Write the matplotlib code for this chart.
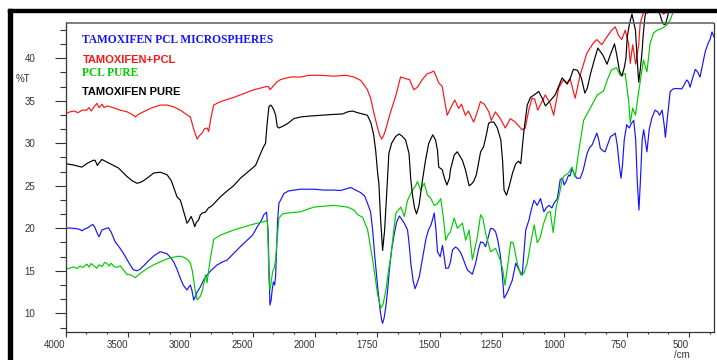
import numpy as np
import matplotlib
matplotlib.use("Agg")
import matplotlib.pyplot as plt
from matplotlib.patches import Rectangle
from matplotlib.ticker import FixedLocator, NullFormatter

plt.rcParams['font.family'] = ['Liberation Sans', 'DejaVu Sans']

# FTIR spectra, wavenumber (/cm) and %T
wn_blue = [4000, 3965, 3911, 3885, 3869, 3853, 3831, 3804, 3783, 3764, 3748, 3732, 3710, 3692, 3676, 3657,
           3636, 3603, 3571, 3537, 3507, 3483, 3459, 3429, 3402, 3376, 3338, 3295, 3241, 3187, 3161, 3134,
           3105, 3080, 3056, 3027, 3012, 3000, 2988, 2973, 2960, 2946, 2920, 2895, 2866, 2831, 2785, 2743,
           2705, 2652, 2598, 2544, 2501, 2463, 2437, 2410, 2389, 2377, 2369, 2362, 2352, 2344, 2334, 2324,
           2316, 2308, 2300, 2290, 2249, 2212, 2169, 2115, 2008, 1965, 1924, 1897, 1857, 1837, 1817, 1801,
           1789, 1777, 1769, 1761, 1749, 1739, 1733, 1729, 1723, 1716, 1709, 1702, 1693, 1682, 1673, 1662,
           1653, 1642, 1629, 1622, 1616, 1607, 1599, 1593, 1582, 1569, 1555, 1545, 1535, 1529, 1522, 1515,
           1509, 1498, 1489, 1483, 1476, 1465, 1457, 1449, 1437, 1429, 1417, 1409, 1397, 1389, 1369, 1356,
           1345, 1336, 1325, 1316, 1305, 1296, 1285, 1276, 1267, 1257, 1249, 1242, 1233, 1222, 1209, 1195,
           1182, 1169, 1163, 1155, 1142, 1133, 1122, 1109, 1096, 1082, 1073, 1062, 1050, 1041, 1028, 1017,
           1008, 1001, 992, 983, 977, 970, 961, 950, 936, 924, 909, 900, 889, 878, 870, 862, 856, 844, 837,
           825, 815, 804, 796, 788, 780, 773, 767, 760, 750, 740, 732, 722, 714, 708, 701, 694, 688, 682,
           676, 669, 660, 649, 636, 626, 618, 608, 600, 595, 588, 576, 564, 552, 529, 520, 509, 502, 496,
           488, 475, 466, 456, 446, 435, 423, 416, 408, 400]
t_blue = [20.0, 20.04, 19.95, 19.86, 19.7, 19.9, 20.0, 20.27, 20.47, 20.04, 19.45, 19.0, 19.8, 19.9, 19.98, 20.07,
          19.57, 18.4, 17.8, 17.06, 16.3, 15.7, 15.15, 15.0, 15.2, 15.57, 16.15, 16.74, 17.25, 17.0, 16.6, 16.07,
          15.1, 14.1, 13.3, 12.74, 13.1, 13.33, 12.74, 11.56, 12.0, 12.5, 13.1, 13.9, 14.5, 15.1, 15.7, 16.04,
          16.27, 17.06, 17.86, 18.6, 19.2, 20.2, 20.75, 21.6, 21.9, 19.8, 15.1, 10.98, 11.57, 12.74, 13.7, 13.33,
          14.5, 17.8, 20.98, 22.94, 24.1, 24.4, 24.5, 24.6, 24.6, 24.5, 24.5, 24.45, 24.8, 24.5, 24.2, 23.8,
          22.9, 21.9, 19.8, 16.9, 13.13, 10.4, 9.2, 8.83, 9.45, 10.8, 12.74, 15.1, 17.45, 19.4, 20.7, 21.45,
          21.1, 20.6, 19.8, 18.0, 15.9, 13.9, 12.9, 13.33, 14.3, 16.5, 18.8, 19.8, 20.4, 21.0, 21.8, 19.8,
          17.25, 16.66, 18.0, 16.86, 15.3, 15.33, 16.04, 17.45, 17.8, 17.65, 17.2, 16.66, 15.7, 15.1, 14.6, 15.9,
          17.45, 18.4, 18.3, 17.84, 19.0, 20.0, 19.92, 19.6, 18.6, 16.86, 14.5, 11.8, 12.2, 12.94, 13.9, 15.9,
          15.1, 14.5, 16.86, 19.8, 20.98, 22.15, 23.3, 22.7, 23.5, 21.95, 22.4, 22.7, 22.4, 22.98, 23.5, 25.7,
          25.9, 25.1, 25.6, 26.27, 26.15, 27.06, 26.4, 25.88, 25.9, 26.9, 28.8, 29.45, 29.8, 30.6, 31.2, 30.4, 29.4, 29.1, 29.0,
          30.0, 30.8, 30.98, 31.2, 29.8, 27.45, 25.9, 27.45, 30.4, 32.2, 31.8, 32.3, 32.7, 30.4, 25.7, 22.15, 26.3, 30.4, 31.6,
          30.4, 29.0, 31.6, 33.0, 33.9, 33.7, 33.3, 33.9, 32.2, 30.7, 32.7, 36.07, 36.4, 36.45, 36.4, 36.86, 37.45, 37.2, 36.6,
          37.45, 38.7, 38.4, 37.8, 39.2, 40.8, 41.8, 42.2, 43.1, 42.5]

wn_red = [4000, 3965, 3933, 3901, 3869, 3831, 3813, 3796, 3772, 3751, 3732, 3708, 3692, 3668, 3644, 3619,
          3563, 3507, 3456, 3442, 3418, 3376, 3322, 3241, 3187, 3137, 3080, 3032, 3000, 2976, 2946, 2928,
          2906, 2887, 2866, 2853, 2835, 2813, 2759, 2652, 2491, 2383, 2369, 2362, 2343, 2308, 2276, 2196,
          2115, 2048, 1977, 1924, 1877, 1844, 1817, 1804, 1790, 1777, 1765, 1750, 1741, 1733, 1725, 1717,
          1697, 1677, 1665, 1657, 1645, 1637, 1621, 1604, 1589, 1570, 1550, 1537, 1524, 1513, 1504, 1490,
          1481, 1470, 1457, 1440, 1424, 1413, 1397, 1385, 1364, 1349, 1337, 1321, 1303, 1293, 1277, 1257,
          1237, 1217, 1197, 1170, 1157, 1143, 1130, 1119, 1107, 1090, 1077, 1057, 1043, 1023, 1003, 990,
          977, 957, 937, 910, 884, 870, 850, 830, 810, 796, 783, 770, 756, 743, 736, 726, 714, 702, 696,
          682, 667, 648, 636, 616, 604, 592, 576, 456]
t_red = [33.5, 33.7, 33.8, 33.6, 33.9, 33.9, 34.2, 33.8, 34.3, 34.7, 34.2, 34.6, 34.2, 34.4, 34.3, 34.2,
         33.9, 33.7, 33.3, 33.1, 33.4, 33.7, 34.1, 34.5, 34.5, 34.3, 33.9, 33.4, 33.1, 31.8, 30.5, 30.9,
         31.2, 31.7, 31.8, 31.4, 33.0, 34.5, 34.9, 35.4, 36.3, 36.7, 36.6, 36.3, 36.6, 37.2, 37.5, 37.8,
         37.8, 38.0, 38.0, 37.9, 38.0, 37.8, 37.4, 36.9, 36.3, 35.3, 33.7, 31.9, 31.0, 30.5, 30.9, 31.6,
         33.7, 35.5, 36.9, 37.8, 37.7, 37.6, 37.5, 36.3, 36.6, 37.5, 38.2, 38.3, 38.5, 37.8, 37.1, 36.7,
         35.1, 33.3, 34.1, 35.1, 34.1, 34.6, 33.3, 33.8, 32.5, 33.7, 34.9, 34.6, 33.7, 32.7, 33.7, 32.9,
         31.8, 32.9, 32.5, 31.6, 31.8, 33.9, 35.3, 35.2, 33.9, 34.9, 35.7, 34.7, 33.3, 36.5, 37.5, 37.1,
         37.6, 35.3, 38.0, 40.6, 41.8, 42.2, 41.6, 42.5, 43.3, 43.7, 42.7, 42.2, 43.3, 41.8, 39.4, 41.6, 39.3, 41.6, 44.1,
         45.5, 45.3, 46.3, 45.9, 45.9, 45.2, 45.4, 46.4, 49.2]

wn_green = [4000, 3965, 3933, 3909, 3885, 3861, 3831, 3813, 3796, 3772, 3751, 3732, 3708, 3688, 3670, 3652,
            3636, 3612, 3590, 3563, 3537, 3509, 3475, 3442, 3402, 3354, 3295, 3241, 3187, 3107, 3072, 3040,
            3016, 3000, 2986, 2973, 2960, 2946, 2932, 2920, 2903, 2879, 2866, 2853, 2839, 2813, 2759, 2652,
            2517, 2437, 2383, 2377, 2370, 2362, 2352, 2340, 2328, 2316, 2308, 2290, 2260, 2222, 2115, 2008,
            1924, 1870, 1844, 1829, 1809, 1789, 1769, 1749, 1736, 1727, 1716, 1705, 1696, 1685, 1676, 1656,
            1642, 1629, 1609, 1597, 1589, 1577, 1562, 1549, 1537, 1522, 1509, 1496, 1485, 1476, 1467, 1457,
            1442, 1429, 1417, 1409, 1396, 1382, 1369, 1349, 1336, 1327, 1316, 1296, 1276, 1255, 1247, 1238,
            1229, 1215, 1205, 1189, 1175, 1163, 1149, 1133, 1121, 1109, 1097, 1085, 1069, 1057, 1045, 1033,
            1021, 1009, 1001, 989, 981, 970, 957, 943, 923, 896, 868, 843, 828, 812, 792, 776, 756, 742, 736,
            726, 715, 704, 695, 683, 669, 656, 642, 628, 610, 590, 576, 563, 548, 456]
t_green = [15.2, 15.33, 15.45, 15.27, 15.56, 15.39, 15.8, 15.45, 15.86, 15.57, 15.3, 15.7, 15.5, 16.0, 15.88, 15.57,
           15.9, 15.5, 15.4, 15.6, 15.1, 14.6, 14.5, 14.2, 14.7, 15.2, 15.7, 16.06, 16.4, 16.7, 16.7, 16.5,
           16.2, 15.9, 15.1, 13.9, 12.5, 11.6, 11.8, 12.0, 12.7, 14.5, 13.6, 15.1, 16.5, 18.7, 19.2, 19.8,
           20.4, 20.7, 20.9, 18.6, 14.3, 12.7, 13.7, 14.9, 15.3, 16.3, 18.0, 21.2, 21.7, 21.8, 21.95, 22.5,
           22.7, 22.5, 22.15, 21.6, 21.3, 19.8, 16.3, 12.2, 10.6, 11.1, 12.7, 15.1, 16.7, 19.6, 21.76, 22.5,
           21.4, 23.3, 24.5, 25.0, 25.5, 24.5, 25.3, 23.9, 23.6, 22.7, 22.9, 23.5, 21.2, 18.6, 19.2, 19.6,
           21.2, 20.0, 20.4, 20.6, 18.6, 19.8, 16.3, 19.0, 21.6, 21.2, 19.4, 17.25, 17.65, 16.1, 15.1, 13.3,
           15.3, 18.4, 18.3, 15.9, 14.5, 14.7, 15.9, 18.6, 20.4, 18.3, 18.9, 20.4, 21.8, 22.0, 19.5, 22.5,
           23.9, 25.7, 26.15, 26.4, 26.6, 27.2, 26.0, 28.98, 32.7, 34.15, 35.7, 36.15, 37.45, 38.6, 38.9, 38.0, 38.2, 34.9, 32.4,
           34.15, 33.3, 35.7, 37.45, 39.8, 38.4, 41.8, 43.0, 43.3, 43.5, 43.9, 44.5, 45.5, 46.3, 49.2]

wn_black = [4000, 3939, 3871, 3821, 3778, 3764, 3746, 3732, 3710, 3684, 3644, 3577, 3509, 3467, 3429, 3402,
            3376, 3338, 3295, 3241, 3187, 3153, 3107, 3080, 3056, 3027, 3012, 2994, 2980, 2965, 2952, 2933,
            2920, 2903, 2879, 2855, 2831, 2785, 2759, 2705, 2654, 2598, 2517, 2477, 2437, 2413, 2397, 2385,
            2370, 2356, 2344, 2330, 2316, 2303, 2290, 2260, 2222, 2171, 2115, 2048, 1977, 1925, 1890, 1869,
            1850, 1829, 1809, 1790, 1776, 1765, 1757, 1749, 1744, 1737, 1729, 1721, 1713, 1704, 1693, 1677,
            1663, 1653, 1637, 1623, 1616, 1609, 1601, 1593, 1583, 1569, 1557, 1544, 1528, 1517, 1509, 1504,
            1490, 1481, 1471, 1461, 1457, 1442, 1430, 1421, 1409, 1397, 1382, 1373, 1364, 1353, 1344, 1336,
            1324, 1313, 1304, 1296, 1283, 1277, 1269, 1255, 1248, 1242, 1232, 1220, 1208, 1195, 1184, 1175,
            1163, 1149, 1136, 1121, 1103, 1089, 1076, 1057, 1037, 1020, 1009, 989, 977, 964, 948, 932, 918,
            908, 895, 880, 866, 846, 829, 816, 799, 790, 779, 769, 760, 753, 748, 740, 729, 724, 715, 708,
            702, 696, 689, 684, 677, 668, 648, 628, 616, 609, 602, 595, 588, 580, 568, 456]
t_black = [27.6, 27.45, 27.2, 27.7, 28.0, 28.0, 27.4, 27.7, 28.1, 27.9, 27.6, 27.1, 26.1, 25.6, 25.3, 25.4,
           25.6, 26.0, 26.5, 26.6, 26.3, 25.6, 23.7, 23.3, 22.1, 20.6, 20.9, 21.4, 20.9, 20.2, 20.7, 21.0,
           21.6, 21.8, 21.9, 22.4, 22.6, 23.3, 23.7, 24.4, 25.0, 25.9, 26.9, 27.4, 28.8, 29.6, 30.0, 32.2,
           34.3, 34.5, 34.3, 33.9, 33.3, 31.95, 31.8, 32.0, 32.3, 32.9, 33.1, 33.2, 33.3, 33.4, 33.45, 33.7,
           33.8, 33.6, 33.45, 33.3, 32.4, 31.0, 29.2, 26.5, 25.3, 21.0, 17.4, 19.8, 23.9, 28.8, 30.0, 30.8,
           31.1, 30.9, 30.4, 28.8, 25.7, 23.9, 22.4, 21.7, 22.7, 25.7, 28.0, 30.0, 31.0, 30.4, 29.2, 27.2,
           26.9, 25.9, 25.1, 25.9, 26.9, 28.6, 29.0, 28.6, 28.0, 26.9, 25.0, 25.2, 25.5, 26.3, 27.7, 29.0,
           29.6, 31.0, 32.35, 32.5, 32.5, 32.2, 31.8, 30.4, 28.0, 24.5, 23.9, 25.1, 26.5, 27.6, 27.9, 27.6,
           31.3, 34.5, 35.4, 35.7, 36.1, 35.3, 34.4, 35.0, 35.7, 36.9, 37.7, 36.96, 37.6, 38.7, 38.6, 37.7, 35.9,
           36.5, 38.2, 39.8, 41.2, 40.4, 39.3, 40.4, 41.7, 40.4, 38.5, 37.9, 38.9, 40.0, 42.5, 43.9, 45.2, 44.5, 43.3, 39.8,
           37.2, 38.6, 40.6, 42.7, 44.9, 46.3, 46.6, 45.9, 45.1, 44.4, 44.0, 44.0, 44.7, 45.7, 46.6, 49.2]

series = [(wn_blue, t_blue, '#1414ff'), (wn_green, t_green, '#00cc00'),
          (wn_red, t_red, '#ff1414'), (wn_black, t_black, 'black')]

x_major = [4000, 3500, 3000, 2500, 2000, 1750, 1500, 1250, 1000, 750, 500]
y_major = [10, 15, 20, 25, 30, 35, 40]


# instrument style axis: 4000-2000 compressed, below 2000 at double scale
def fwd(w):
    w = np.asarray(w, dtype=float)
    return np.where(w >= 2000, w, 2 * w - 2000)


def inv(p):
    p = np.asarray(p, dtype=float)
    return np.where(p >= 2000, p, (p + 2000) / 2)


W, H = 717, 360
fig = plt.figure(figsize=(W / 100, H / 100), dpi=100)
ax = fig.add_axes([65.7 / W, 1 - 331.7 / H, (714 - 65.7) / W, (331.7 - 12.3) / H])
ax.set_xscale('function', functions=(fwd, inv))

for w, t, c in series:
    ax.plot(w, t, color=c, lw=0.85)

ax.set_xlim(4000, 400)
ax.set_ylim(7.84, 45.41)

# axes frame
ax.spines['top'].set_visible(False)
for s in ['left', 'right', 'bottom']:
    ax.spines[s].set_color('#333333')
    ax.spines[s].set_linewidth(0.9)
ax.spines['left'].set_bounds(7.84, 44.15)
ax.spines['right'].set_bounds(7.84, 44.15)
ax.axhline(44.15, color='#666666', lw=1.2)

# ticks
x_minor = list(np.arange(4000, 2000, -500 / 3)) + list(np.arange(2000, 399, -250 / 3))
ax.xaxis.set_major_locator(FixedLocator(x_major))
ax.xaxis.set_minor_locator(FixedLocator(x_minor))
ax.xaxis.set_minor_formatter(NullFormatter())
ax.set_xticklabels([str(v) for v in x_major])
ax.yaxis.set_major_locator(FixedLocator(y_major))
ax.yaxis.set_minor_locator(FixedLocator(list(np.arange(10 - 5 / 3, 44, 5 / 3))))
ax.yaxis.set_minor_formatter(NullFormatter())
ax.tick_params(axis='x', which='major', length=3.6, width=0.8, pad=2.2, labelsize=7, colors='#333333')
ax.tick_params(axis='x', which='minor', length=1.6, width=0.8, colors='#333333')
ax.tick_params(axis='y', which='major', length=7.7, width=0.8, pad=14, labelsize=7, colors='#333333')
ax.tick_params(axis='y', which='minor', length=4.1, width=0.8, colors='#333333')
for lab in ax.get_xticklabels():
    lab.set_horizontalalignment('right')

fig.text(16 / W, 1 - 79 / H, '%T', fontsize=7, color='#333333', va='center')
fig.text(682 / W, 1 - 355.5 / H, '/cm', fontsize=7, color='#333333', va='center', ha='center')

# legend texts
fig.text(82 / W, 1 - 40 / H, 'TAMOXIFEN PCL MICROSPHERES', color='#1414ff', fontsize=8.3,
         fontweight='bold', family=['Liberation Serif'], va='center')
fig.text(83 / W, 1 - 60 / H, 'TAMOXIFEN+PCL', color='#ff1414', fontsize=8, fontweight='bold', va='center')
fig.text(82 / W, 1 - 73 / H, 'PCL PURE', color='#00cc00', fontsize=8.3, fontweight='bold',
         family=['Liberation Serif'], va='center')
fig.text(82 / W, 1 - 92 / H, 'TAMOXIFEN PURE', color='black', fontsize=8, fontweight='bold', va='center')

# thick outer border (top and left)
fig.add_artist(Rectangle((8.3 / W, 1 - 12.3 / H), 1, 3.0 / H, transform=fig.transFigure,
                         color='black', zorder=5))
fig.add_artist(Rectangle((8.3 / W, 0), 3.7 / W, 1 - 9.3 / H, transform=fig.transFigure,
                         color='black', zorder=5))

fig.savefig('out.png', dpi=100)
